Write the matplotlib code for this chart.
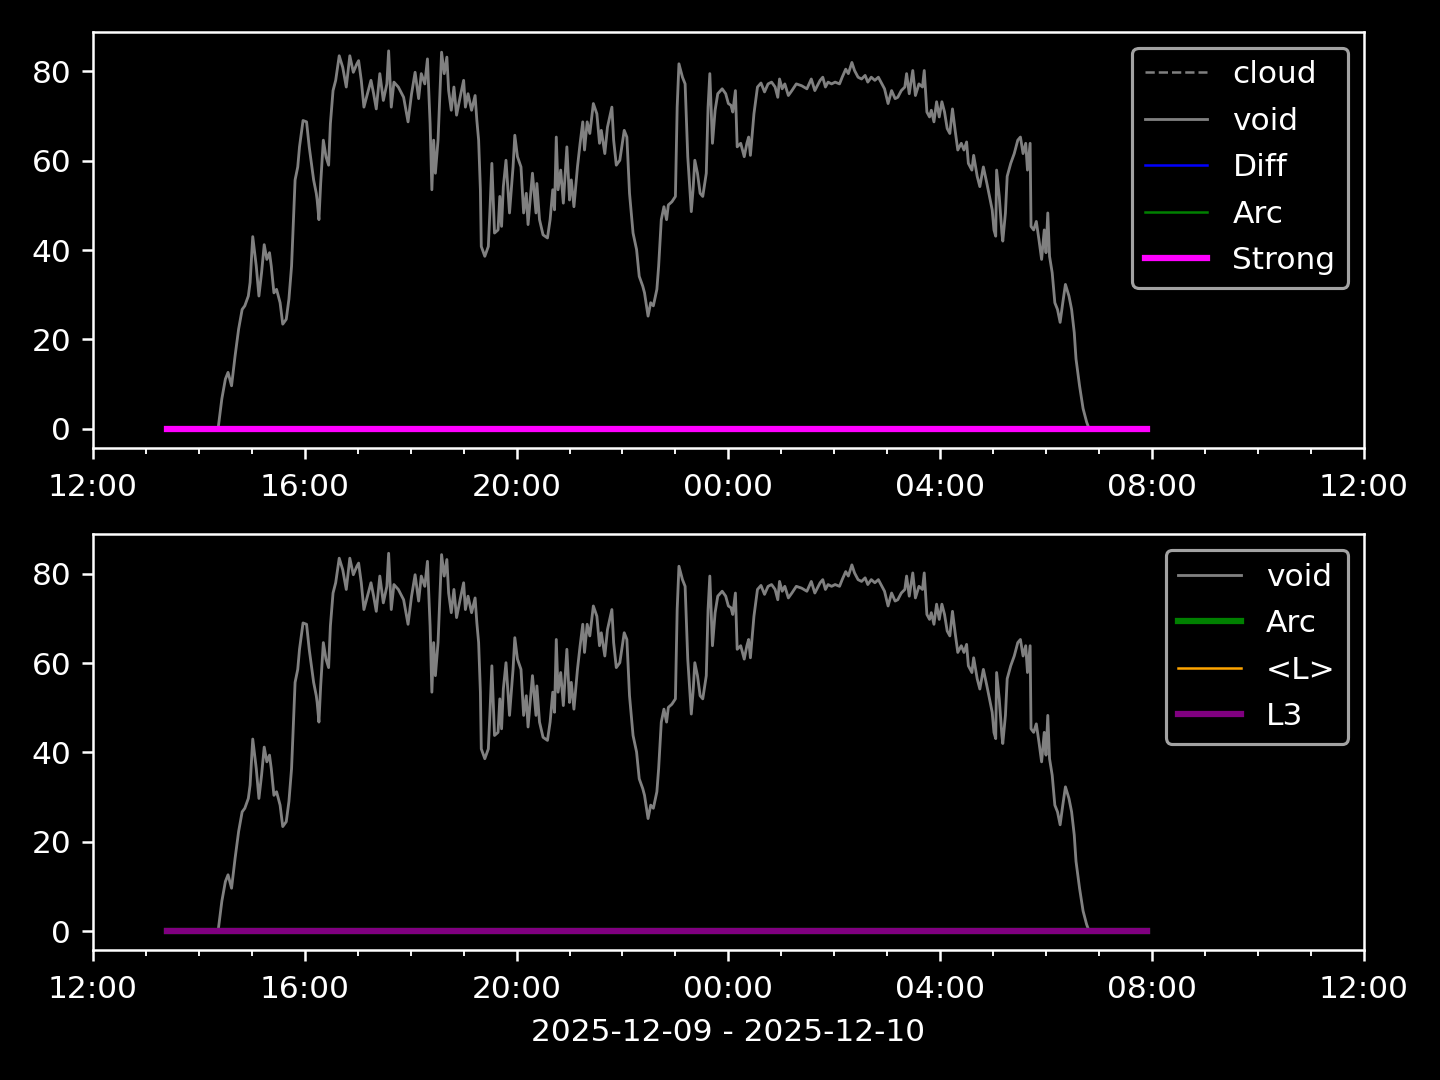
import matplotlib
matplotlib.use("Agg")
import matplotlib.pyplot as plt
import matplotlib.dates as mdates
import numpy as np
import pandas as pd

# minutes after 2025-12-09 12:00 and the "void" readings
void_minutes = [84, 140, 142, 146, 150, 153, 157, 161, 165, 169, 172, 176, 178, 181, 185, 188, 191, 194, 197, 200,
                202, 205, 208, 212, 215, 219, 222, 225, 227, 229, 232, 234, 238, 242, 245, 248, 250, 253, 254, 256,
                258, 261, 264, 267, 269, 272, 275, 279, 283, 287, 291, 295, 299, 301, 304, 307, 311, 315, 318, 321,
                325, 329, 333, 335, 338, 341, 346, 352, 357, 361, 365, 369, 372, 376, 379, 382, 384, 386, 388, 391,
                395, 398, 401, 403, 406, 409, 412, 416, 420, 422, 425, 429, 433, 435, 437, 439, 440, 444, 448, 450,
                452, 455, 459, 461, 463, 465, 468, 472, 476, 478, 481, 485, 488, 491, 493, 498, 502, 503, 506, 510,
                515, 518, 521, 523, 525, 527, 530, 533, 537, 540, 542, 545, 549, 552, 555, 557, 560, 563, 567, 571,
                574, 576, 580, 583, 588, 590, 593, 597, 602, 605, 608, 612, 616, 619, 623, 625, 629, 632, 635, 639,
                641, 644, 647, 650, 652, 656, 660, 662, 664, 668, 671, 674, 678, 680, 682, 685, 688, 691, 695, 697,
                699, 702, 705, 708, 713, 717, 720, 723, 725, 728, 730, 734, 738, 741, 743, 745, 749, 753, 757, 761,
                765, 769, 773, 776, 778, 781, 784, 788, 792, 797, 803, 809, 814, 818, 824, 827, 830, 833, 837, 841,
                846, 849, 853, 856, 860, 863, 867, 871, 875, 878, 882, 886, 890, 894, 897, 901, 905, 909, 912, 916,
                920, 922, 925, 929, 932, 936, 940, 942, 945, 948, 950, 953, 956, 959, 962, 965, 968, 971, 974, 977,
                980, 984, 987, 990, 992, 996, 998, 1002, 1005, 1009, 1013, 1016, 1019, 1021, 1023, 1024, 1027, 1030, 1031, 1034,
                1036, 1040, 1044, 1048, 1051, 1054, 1057, 1059, 1062, 1063, 1066, 1069, 1072, 1075, 1078, 1080, 1082, 1084, 1087, 1090,
                1093, 1096, 1099, 1102, 1106, 1109, 1112, 1114, 1118, 1122, 1126, 1128, 1130, 1194]
void_values = [0, 0, 0.4, 6.7, 11.1, 12.6, 9.6, 16.3, 22.3, 26.7, 27.5, 29.7, 32.7, 43.0, 36.4, 29.7, 34.9, 41.2, 37.9, 39.4,
               36.4, 30.4, 31.2, 28.2, 23.4, 24.5, 29.0, 36.4, 46.0, 55.7, 58.6, 63.1, 69.0, 68.7, 63.1, 58.6, 55.7, 52.7, 51.2, 46.8,
               54.9, 64.6, 60.9, 59.0, 68.3, 75.7, 78.0, 83.5, 80.9, 76.5, 83.5, 79.8, 81.7, 82.4, 78.0, 72.0, 75.0, 78.0, 75.0, 71.6,
               79.5, 73.5, 77.2, 84.6, 72.0, 77.6, 76.5, 74.2, 68.7, 75.0, 79.8, 73.9, 79.5, 77.2, 82.8, 68.3, 53.5, 64.6, 57.2, 64.6,
               84.3, 79.5, 83.2, 75.7, 71.3, 76.5, 70.2, 74.2, 78.0, 72.0, 75.0, 71.3, 74.6, 69.0, 64.6, 53.5, 40.8, 38.6, 40.8, 49.7,
               59.4, 43.8, 44.5, 52.0, 45.3, 54.2, 60.1, 48.3, 58.6, 65.7, 60.9, 58.6, 48.3, 52.7, 45.7, 57.2, 48.3, 54.9, 46.8, 43.4,
               42.7, 46.8, 53.5, 49.0, 65.3, 53.5, 57.9, 50.5, 63.1, 51.2, 55.7, 49.7, 58.6, 63.9, 68.7, 62.4, 68.7, 66.1, 72.8, 70.5,
               63.9, 66.8, 61.6, 67.5, 72.0, 64.6, 59.0, 60.1, 66.8, 65.3, 52.7, 43.8, 40.1, 34.1, 31.9, 30.4, 25.2, 28.2, 27.5, 31.2,
               36.4, 46.8, 49.7, 46.8, 50.1, 50.8, 52.0, 72.0, 81.7, 78.7, 77.2, 60.9, 48.6, 53.5, 60.1, 57.2, 52.7, 52.0, 57.2, 72.0,
               79.5, 63.9, 71.3, 75.0, 76.1, 75.0, 72.8, 72.4, 70.9, 75.7, 63.1, 63.9, 60.9, 63.9, 65.3, 61.2, 70.5, 76.5, 77.4, 75.4,
               77.2, 77.6, 76.5, 74.2, 78.3, 76.1, 77.2, 74.6, 75.7, 77.2, 76.8, 76.1, 78.3, 75.7, 78.0, 78.7, 76.5, 77.6, 77.2, 77.6,
               77.2, 78.7, 80.5, 79.5, 82.0, 80.2, 78.7, 78.3, 79.1, 77.6, 78.7, 78.0, 78.7, 77.2, 76.1, 72.8, 75.7, 73.9, 74.2, 75.7,
               76.5, 79.5, 75.0, 80.2, 74.6, 77.2, 76.5, 80.2, 70.9, 69.8, 71.3, 68.7, 73.2, 69.8, 73.2, 70.9, 67.2, 66.1, 71.6, 66.8,
               62.4, 63.9, 62.4, 64.2, 59.4, 57.9, 61.2, 56.5, 54.2, 58.6, 54.9, 52.0, 49.0, 44.5, 43.1, 57.9, 52.0, 43.8, 42.0, 48.3,
               56.5, 59.4, 61.6, 64.6, 65.3, 61.6, 63.9, 57.9, 63.9, 45.3, 44.5, 46.4, 42.3, 37.9, 44.5, 39.4, 48.3, 38.6, 34.9, 28.2,
               26.7, 23.8, 28.2, 32.3, 29.7, 26.7, 21.5, 15.6, 9.6, 4.5, 1.5, 0.4, 0, 0]

# the other series stay at zero for the whole run
flat_minutes = [84, 1194]
flat_values = [0, 0]

base = pd.Timestamp("2025-12-09 12:00")
t_void = base + pd.to_timedelta(void_minutes, unit="m")
t_flat = base + pd.to_timedelta(flat_minutes, unit="m")

plt.style.use("dark_background")
fig, axes = plt.subplots(2, 1, figsize=(6.4, 4.8), dpi=225)
fig.subplots_adjust(left=0.0646, right=0.947, top=0.9704, bottom=0.1204, hspace=0.209)

# top panel
ax = axes[0]
ax.plot(t_flat, flat_values, color="gray", linestyle="--", linewidth=0.8, label="cloud")
ax.plot(t_void, void_values, color="gray", linewidth=0.9, label="void")
ax.plot(t_flat, flat_values, color="blue", linewidth=0.8, label="Diff")
ax.plot(t_flat, flat_values, color="green", linewidth=0.8, label="Arc")
ax.plot(t_flat, flat_values, color="magenta", linewidth=2, label="Strong")
ax.legend(loc="upper right", labelspacing=0.56)

# bottom panel
ax = axes[1]
ax.plot(t_void, void_values, color="gray", linewidth=0.9, label="void")
ax.plot(t_flat, flat_values, color="green", linewidth=2, label="Arc")
ax.plot(t_flat, flat_values, color="orange", linewidth=0.8, label="<L>")
ax.plot(t_flat, flat_values, color="purple", linewidth=2, label="L3")
ax.legend(loc="upper right", labelspacing=0.56)
ax.set_xlabel("2025-12-09 - 2025-12-10", labelpad=4.6)

for ax in axes:
    ax.set_xlim(base, base + pd.Timedelta(hours=24))
    ax.xaxis.set_major_locator(mdates.HourLocator(byhour=range(0, 24, 4)))
    ax.xaxis.set_minor_locator(mdates.HourLocator())
    ax.xaxis.set_major_formatter(mdates.DateFormatter("%H:%M"))
    ax.tick_params(axis="x", which="major", pad=4.5)
    ax.set_yticks([0, 20, 40, 60, 80])

plt.savefig("out.png", dpi=225)
